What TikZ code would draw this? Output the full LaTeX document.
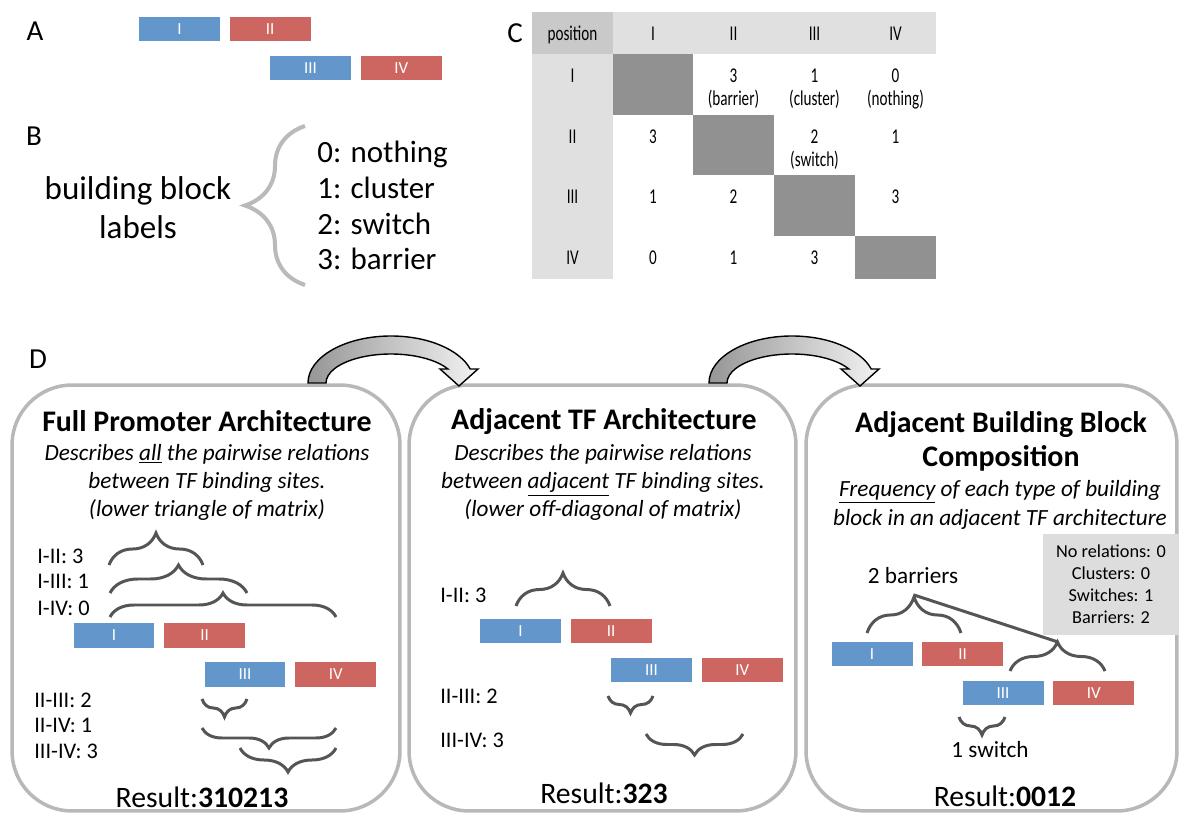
\documentclass[tikz,border=0pt]{standalone}
\usepackage{fontspec}
\setmainfont{Carlito}
\usetikzlibrary{positioning,decorations.pathreplacing}
\definecolor{siteblue}{RGB}{99,151,203}
\definecolor{sitered}{RGB}{205,102,96}
\definecolor{headgray}{RGB}{224,224,224}
\definecolor{posgray}{RGB}{201,201,201}
\definecolor{diaggray}{RGB}{145,145,145}
\definecolor{stagegray}{RGB}{184,184,184}
\definecolor{bracegray}{RGB}{85,85,85}
\definecolor{labelbrace}{RGB}{186,186,186}
\definecolor{countgray}{RGB}{221,221,221}
\definecolor{arrowdark}{RGB}{150,150,150}
\definecolor{arrowlight}{RGB}{242,242,242}

\newcommand\fsz[2]{\fontsize{#1}{#2}\selectfont}
\newcommand\cellx[1]{\scalebox{0.72}[1]{\begin{tabular}{@{}c@{}}#1\end{tabular}}}

\tikzset{
  site/.style={minimum width=1.62cm, minimum height=0.49cm, inner sep=0pt, text=white, font=\fsz{9.6}{11}},
  siteA/.style={site, fill=siteblue},
  siteB/.style={site, fill=sitered},
  tfbrace/.style={draw=bracegray, line width=1.7pt, decorate, decoration={brace, amplitude=#1}},
  stage/.style={draw=stagegray, fill=white, line width=2pt, rounded corners=1.2cm, inner sep=0pt},
  cell/.style={anchor=north, yshift=-0.24cm, inner sep=0pt, font=\fsz{12}{13}},
  panel/.style={font=\fsz{16.5}{18}},
  stagetitle/.style={anchor=base, inner sep=0pt, align=center, font=\fsz{17}{19.8}\bfseries},
  desc/.style={anchor=base, inner sep=0pt, align=center, font=\fsz{13.2}{16.2}\itshape},
  pair/.style={anchor=base west, inner sep=0pt, font=\fsz{12.7}{15}},
  result/.style={anchor=base, inner sep=0pt, font=\fsz{16.9}{20}},
  note/.style={anchor=base, inner sep=0pt, font=\fsz{13.2}{15}},
  bendarrow/.style={draw=black, line width=0.8pt, left color=arrowdark, right color=arrowlight},
}

\newcommand\tfsites[3]{%
  \node[siteA] (#1i) at (#2,#3) {I};
  \node[siteB, right=0.18cm of #1i] (#1ii) {II};
  \node[siteA] (#1iii) at ([shift={(131,39)}]#1i.center) {III};
  \node[siteB, right=0.18cm of #1iii] (#1iv) {IV};}

\newcommand\bentarrow[1]{%
  \begin{scope}[shift={(#1,383)}, x=0.02cm, y=0.02cm]
    \path[bendarrow] (-83,0) arc[start angle=180, end angle=17.3, x radius=83, y radius=47]
      -- (87,14) -- (68,-3) -- (49,14) -- (56.9,14)
      arc[start angle=28.9, end angle=180, x radius=65, y radius=29] -- cycle;
  \end{scope}}

\begin{document}
\begin{tikzpicture}[x=0.02cm, y=-0.02cm]
\useasboundingbox (0,0) rectangle (1179,813);

\node[panel] (labA) at (35,31) {A};
\node[panel] (labB) at (34,136) {B};
\node[panel] (labC) at (515,33) {C};
\node[panel] (labD) at (38,359) {D};

\tfsites{a}{179.5}{29}

\node[anchor=base, align=center, inner sep=0pt, font=\fsz{18.8}{22.7}] (bblabel) at (138,239) {building block\\labels};
\draw[labelbrace, line width=2.3pt, decorate, decoration={brace, amplitude=1.2cm}] (305,285) -- (305,126);
\node[anchor=base west, align=left, inner sep=0pt, font=\fsz{17.6}{20.3}] (codes) at (317,270) {0: nothing\\1: cluster\\2: switch\\3: barrier};

\fill[headgray] (532,12) rectangle (936,54);
\fill[headgray] (532,54) rectangle (613,279);
\fill[posgray] (532,12) rectangle (613,54);
\foreach \xa/\ya/\xb/\yb in {613/54/693/115, 693/115/774/175, 774/175/855/236, 855/236/936/279}
  \fill[diaggray] (\xa,\ya) rectangle (\xb,\yb);
\node[cell] (hpos) at (572.5,12) {\cellx{position}};
\foreach \t/\x [count=\k] in {I/653, II/733.5, III/814.5, IV/895.5}
  \node[cell] (h\k) at (\x,12) {\cellx{\t}};
\foreach \t/\y [count=\k] in {I/54, II/115, III/175, IV/236}
  \node[cell] (r\k) at (572.5,\y) {\cellx{\t}};
\foreach \x/\y/\t [count=\k] in {733.5/54/{3\\(barrier)}, 814.5/54/{1\\(cluster)}, 895.5/54/{0\\(nothing)},
    653/115/3, 814.5/115/{2\\(switch)}, 895.5/115/1,
    653/175/1, 733.5/175/2, 895.5/175/3,
    653/236/0, 733.5/236/1, 814.5/236/3}
  \node[cell] (m\k) at (\x,\y) {\cellx{\t}};

\node[stage, minimum width=7.76cm, minimum height=8.52cm] (full) at (206,598) {};
\node[stage, minimum width=7.74cm, minimum height=8.52cm] (adj) at (602.5,598) {};
\node[stage, minimum width=7.42cm, minimum height=8.52cm] (comp) at (991.5,598) {};
\bentarrow{391}
\bentarrow{792}

\node[stagetitle] (fulltitle) at (207,432) {Full Promoter Architecture};
\node[desc] (fulldesc) at (207,517) {Describes \underline{all} the pairwise relations\\between TF binding sites.\\(lower triangle of matrix)};
\node[pair] (f12) at (37,563) {I-II: 3};
\node[pair] (f13) at (37,588) {I-III: 1};
\node[pair] (f14) at (37,615) {I-IV: 0};
\node[pair] (f23) at (34,707) {II-III: 2};
\node[pair] (f24) at (34,732) {II-IV: 1};
\node[pair] (f34) at (34,758) {III-IV: 3};
\tfsites{f}{114}{635.5}
\draw[tfbrace=0.64cm] (109,565) -- (203,565);
\draw[tfbrace=0.56cm] (110,593) -- (247,593);
\draw[tfbrace=0.48cm] (110,617) -- (336,617);
\draw[tfbrace=0.36cm] (247,699) -- (202,699);
\draw[tfbrace=0.40cm] (336,728) -- (202,728);
\draw[tfbrace=0.48cm] (336,748) -- (240,748);
\node[result] (fullres) at (202,807) {Result:\textbf{310213}};

\node[stagetitle] (adjtitle) at (604,430) {Adjacent TF Architecture};
\node[desc] (adjdesc) at (603,517) {Describes the pairwise relations\\between \underline{adjacent} TF binding sites.\\(lower off-diagonal of matrix)};
\node[pair] (j12) at (440,602) {I-II: 3};
\node[pair] (j23) at (440,703) {II-III: 2};
\node[pair] (j34) at (440,747) {III-IV: 3};
\tfsites{j}{520.5}{631}
\draw[tfbrace=0.66cm] (516,606) -- (610,606);
\draw[tfbrace=0.34cm] (653,696) -- (608,696);
\draw[tfbrace=0.42cm] (743,734) -- (646,734);
\node[result] (adjres) at (604,803) {Result:\textbf{323}};

\node[stagetitle] (comptitle) at (1001,467) {Adjacent Building Block\\Composition};
\node[desc] (compdesc) at (1000,525) {\underline{Frequency} of each type of building\\block in an adjacent TF architecture};
\node[fill=countgray, minimum width=2.72cm, minimum height=2.02cm, inner sep=0pt, align=center, font=\fsz{10.4}{12.5}] (counts) at (1111,584.5) {No relations: 0\\Clusters: 0\\Switches: 1\\Barriers: 2};
\node[note] (barriers) at (913,583) {2 barriers};
\tfsites{c}{872}{654}
\draw[tfbrace=0.72cm] (867,633) -- (961,633);
\draw[tfbrace=0.58cm] (1010,671) -- (1105,671);
\draw[tfbrace=0.36cm] (1005,717) -- (959,717);
\coordinate (barA) at (914,595);
\coordinate (barB) at (1058,642);
\draw[bracegray, line width=1.7pt] (barA) -- (barB);
\node[note] (switch) at (990,757) {1 switch};
\node[result] (compres) at (1005,806) {Result:\textbf{0012}};
\end{tikzpicture}
\end{document}
